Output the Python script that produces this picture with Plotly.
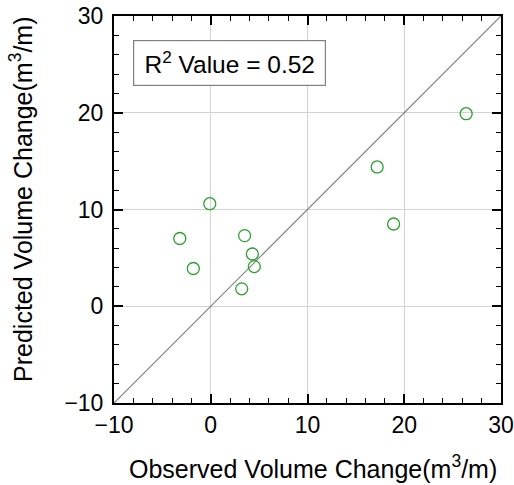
import plotly.graph_objects as go

observed = [26.4, 17.2, 18.9, -0.1, -3.2, -1.8, 3.5, 4.3, 4.5, 3.2]
predicted = [19.9, 14.4, 8.5, 10.6, 7.0, 3.9, 7.3, 5.4, 4.1, 1.8]
line_x = [-10, 30]
line_y = [-10, 30]
r2_value = 0.52
x_title = "Observed Volume Change(m<sup>3</sup>/m)"
y_title = "Predicted Volume Change(m<sup>3</sup>/m)"

FONT = "Liberation Sans, Arial, Helvetica, sans-serif"

fig = go.Figure()
fig.add_trace(go.Scatter(x=line_x, y=line_y, mode="lines",
                         line=dict(color="#808080", width=1.2), showlegend=False, hoverinfo="skip"))
fig.add_trace(go.Scatter(x=observed, y=predicted, mode="markers",
                         marker=dict(symbol="circle-open", size=12, color="#2ca02c",
                                     line=dict(width=1.3, color="#2ca02c")),
                         showlegend=False))

axis_common = dict(
    range=[-10, 30], dtick=10, tick0=-10, automargin=False, ticklabeloverflow="allow",
    showgrid=True, gridcolor="#d3d3d3", gridwidth=1,
    zeroline=False, showline=True, linecolor="black", linewidth=2,
    mirror="allticks", ticks="inside", ticklen=9, tickwidth=1.5, tickcolor="black",
    tickfont=dict(size=23, color="black", family=FONT),
    minor=dict(dtick=2, ticks="inside", ticklen=5, tickwidth=1, tickcolor="black", showgrid=False),
)

fig.update_layout(
    width=514, height=485,
    margin=dict(l=114, r=13, t=16, b=82),
    paper_bgcolor="white", plot_bgcolor="white",
    font=dict(family=FONT, color="black"),
    xaxis=dict(**axis_common),
    yaxis=dict(**axis_common, ticklabelstandoff=4),
    annotations=[
        dict(x=0.049, y=0.879, xref="paper", yref="paper", xanchor="left", yanchor="middle",
             text=f"R<sup>2</sup> Value = {r2_value:.2f}", showarrow=False,
             font=dict(size=24.5, color="black", family=FONT), width=179, align="center",
             bordercolor="#808080", borderwidth=1.2, borderpad=6, bgcolor="white"),
        dict(x=0.515, y=-0.165, xref="paper", yref="paper", xanchor="center", yanchor="middle",
             text=x_title, showarrow=False, font=dict(size=25, color="black", family=FONT)),
        dict(x=-0.24, y=0.525, xref="paper", yref="paper", xanchor="center", yanchor="middle",
             text=y_title, textangle=-90, showarrow=False,
             font=dict(size=25, color="black", family=FONT)),
    ],
)

fig.write_html("out.html")
